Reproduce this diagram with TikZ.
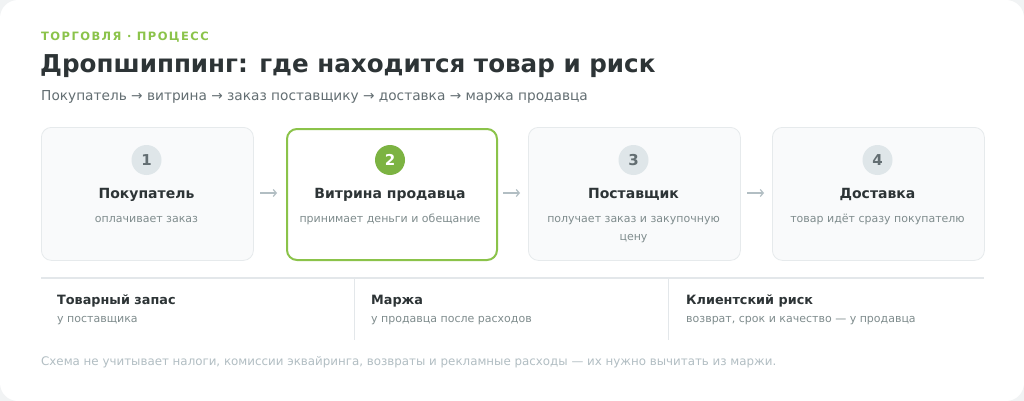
\documentclass[tikz,border=0pt]{standalone}
\usepackage{fontspec}
\setmainfont{DejaVu Sans}
\usetikzlibrary{arrows.meta}
\definecolor{bgc}{HTML}{F1F3F4}
\definecolor{ink}{HTML}{2D3436}
\definecolor{muted}{HTML}{636E72}
\definecolor{soft}{HTML}{7F8C8D}
\definecolor{faint}{HTML}{B2BEC3}
\definecolor{accent}{HTML}{8BC34A}
\definecolor{accentdk}{HTML}{7CB342}
\definecolor{boxfill}{HTML}{F9FAFB}
\definecolor{boxline}{HTML}{E6EAEC}
\definecolor{circfill}{HTML}{DFE6E9}
\definecolor{rulec}{HTML}{E3E7EA}
\tikzset{
  stepbox/.style={draw=boxline, fill=boxfill, rounded corners=10pt, line width=0.8pt, minimum width=212pt, minimum height=133pt, anchor=north west},
  activebox/.style={draw=accent, fill=white, rounded corners=10pt, line width=2pt, minimum width=210pt, minimum height=131pt, anchor=north west},
  num/.style={circle, fill=circfill, minimum size=30pt, inner sep=0pt, text=muted, font=\fontsize{15}{18}\selectfont\bfseries},
  numact/.style={circle, fill=accentdk, minimum size=30pt, inner sep=0pt, text=white, font=\fontsize{15}{18}\selectfont\bfseries},
  steptitle/.style={text=ink, font=\fontsize{14}{17}\selectfont\bfseries, inner sep=0pt, anchor=base},
  stepsub/.style={text=soft, font=\fontsize{11}{14}\selectfont, inner sep=0pt, anchor=base},
  flow/.style={-{Straight Barb[length=3pt,width=7pt]}, draw=faint, line width=1.2pt},
  coltitle/.style={text=ink, font=\fontsize{12.8}{16}\selectfont\bfseries, anchor=base west, inner sep=0pt},
  colsub/.style={text=soft, font=\fontsize{11}{14}\selectfont, anchor=base west, inner sep=0pt},
}
\begin{document}
\begin{tikzpicture}[x=1pt,y=-1pt]
\useasboundingbox (0,0) rectangle (1024,401);
\fill[bgc] (0,0) rectangle (1024,401);
\fill[white, rounded corners=18pt] (0,0) rectangle (1024,401);
% header
\node[anchor=base west, inner sep=0pt, text=accent, font=\fontsize{11.5}{13}\selectfont\bfseries\addfontfeature{LetterSpace=12.5}] (kicker) at (41,41) {ТОРГОВЛЯ · ПРОЦЕСС};
\node[anchor=base west, inner sep=0pt, text=ink, font=\fontsize{24.6}{28}\selectfont\bfseries] (title) at (40,73) {Дропшиппинг: где находится товар и риск};
\node[anchor=base west, inner sep=0pt, text=muted, font=\fontsize{13.7}{16}\selectfont] (subtitle) at (41,101) {Покупатель → витрина → заказ поставщику → доставка → маржа продавца};
% boxes
\node[stepbox] (b1) at (41,127) {};
\node[activebox] (b2) at (286,128) {};
\node[stepbox] (b3) at (528,127) {};
\node[stepbox] (b4) at (772,127) {};
% numbers
\node[num] (n1) at (146.5,160) {1};
\node[numact] (n2) at (390,160) {2};
\node[num] (n3) at (633.5,160) {3};
\node[num] (n4) at (877.5,160) {4};
% titles
\node[steptitle] (t1) at (146.5,198) {Покупатель};
\node[steptitle] (t2) at (390,198.5) {Витрина продавца};
\node[steptitle] (t3) at (633.5,198) {Поставщик};
\node[steptitle] (t4) at (877.5,198) {Доставка};
% subs
\node[stepsub] (s1) at (146.5,222) {оплачивает заказ};
\node[stepsub] (s2) at (390,222) {принимает деньги и обещание};
\node[stepsub] (s3) at (633.5,222) {получает заказ и закупочную};
\node[stepsub] (s3b) at (633.5,240) {цену};
\node[stepsub] (s4) at (877.5,222) {товар идёт сразу покупателю};
% arrows
\coordinate (a1s) at (260,193); \coordinate (a1e) at (277,193);
\coordinate (a2s) at (503,193); \coordinate (a2e) at (520,193);
\coordinate (a3s) at (747,193); \coordinate (a3e) at (764,193);
\draw[flow] (a1s) -- (a1e);
\draw[flow] (a2s) -- (a2e);
\draw[flow] (a3s) -- (a3e);
% divider and columns
\coordinate (rl) at (41,278); \coordinate (rr) at (984,278);
\draw[rulec, line width=1.2pt] (rl) -- (rr);
\coordinate (d1t) at (354,279); \coordinate (d1b) at (354,340);
\coordinate (d2t) at (668,279); \coordinate (d2b) at (668,340);
\draw[rulec, line width=0.8pt] (d1t) -- (d1b);
\draw[rulec, line width=0.8pt] (d2t) -- (d2b);
\node[coltitle] (c1) at (57,304) {Товарный запас};
\node[colsub] (c1s) at (57,322.5) {у поставщика};
\node[coltitle] (c2) at (371,304) {Маржа};
\node[colsub] (c2s) at (371,322.5) {у продавца после расходов};
\node[coltitle] (c3) at (686,304) {Клиентский риск};
\node[colsub] (c3s) at (686,322.5) {возврат, срок и качество — у продавца};
% footnote
\node[anchor=base west, inner sep=0pt, text=faint, font=\fontsize{11.85}{14}\selectfont] (foot) at (41,365) {Схема не учитывает налоги, комиссии эквайринга, возвраты и рекламные расходы — их нужно вычитать из маржи.};
\end{tikzpicture}
\end{document}
